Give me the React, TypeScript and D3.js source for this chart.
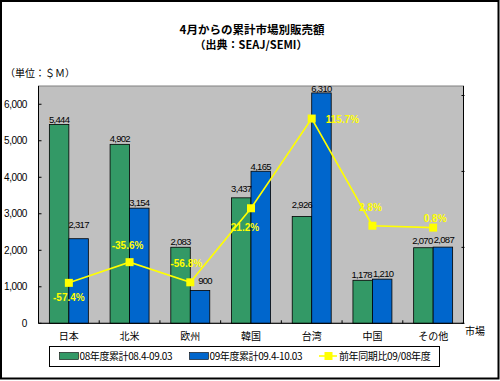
import React from "react";
import * as d3 from "d3";

const categories = ["日本", "北米", "欧州", "韓国", "台湾", "中国", "その他"];
const fy08 = [5444, 4902, 2083, 3437, 2926, 1178, 2070];
const fy09 = [2317, 3154, 900, 4165, 6310, 1210, 2087];
const yoy = [-57.4, -35.6, -56.8, 21.2, 115.7, 2.8, 0.8];
const leftTicks = [0, 1000, 2000, 3000, 4000, 5000, 6000];
const rightTicks = [-100, -20, 60, 140];
const seriesNames = ["08年度累計08.4-09.03", "09年度累計09.4-10.03", "前年同期比09/08年度"];

const W = 500;
const H = 381;
const L = 38.5, R = 463.5, T = 86, B = 323.3;
const GREEN = "#339966";
const BLUE = "#0066CC";
const YELLOW = "#FFFF00";
const JP = "'Noto Sans CJK JP', 'Liberation Sans', sans-serif";
const NUM = "'Liberation Sans', Arial, sans-serif";

// label gaps (style)
const gapG = [1, 1, 1, 5, 7, 1, 3];
const gapB = [10, 1, 5, 0, 0, 1, 3];
const dxG = [0, 0, 0, 0, 0, -1, -1];
const dxB = [0, 0, 5, 0, 0, 1, 1];
const pctDx = [0, -2, -4, -6, 14, -2, 2];
const pctDy = [18, -13, -15, 22.5, 4, -15, -6];
const pctAnchor = ["middle", "middle", "middle", "middle", "start", "middle", "middle"];

export default function App() {
  const x = d3.scaleBand<string>().domain(categories).range([L, R]).padding(0);
  const yL = d3.scaleLinear().domain([0, 6500]).range([B, T]);
  const yR = d3.scaleLinear().domain([-100, 150]).range([B, T]);
  const bw = x.bandwidth() * 0.321;
  const cx = (c: string) => (x(c) as number) + x.bandwidth() / 2;
  const fmt = d3.format(",");
  const line = d3
    .line<number>()
    .x((_, i) => cx(categories[i]))
    .y((d) => yR(d));

  return (
    <svg width={W} height={H} style={{ position: "absolute", left: 0, top: 0, background: "#fff" }}>
      <rect x={1} y={1} width={497.5} height={377.5} fill="#fff" stroke="#000" strokeWidth={2} />
      {/* titles */}
      <text x={252} y={34} textAnchor="middle" fontFamily={JP} fontSize={11.5} fontWeight="bold">
        4月からの累計市場別販売額
      </text>
      <text x={251} y={49} textAnchor="middle" fontFamily={JP} fontSize={11} fontWeight="bold">
        （出典：SEAJ/SEMI）
      </text>
      <text x={5} y={77} fontFamily={JP} fontSize={10}>
        （単位：＄Ｍ）
      </text>

      {/* plot area */}
      <rect x={L} y={T} width={R - L} height={B - T} fill="#C0C0C0" stroke="#808080" strokeWidth={1} />

      {/* left axis */}
      <line x1={L} x2={L} y1={T} y2={B} stroke="#000" />
      {leftTicks.map((t) => (
        <g key={t}>
          <line x1={L} x2={L + 3} y1={yL(t)} y2={yL(t)} stroke="#000" />
          <text x={27} y={yL(t) + 3.5} textAnchor="end" fontFamily={NUM} fontSize={10} letterSpacing={-0.4}>
            {fmt(t)}
          </text>
        </g>
      ))}
      {/* right axis */}
      <line x1={R} x2={R} y1={T} y2={B} stroke="#000" />
      {rightTicks.map((t) => (
        <line key={t} x1={R - 2} x2={R + 1} y1={yR(t)} y2={yR(t)} stroke="#000" />
      ))}

      {/* bars */}
      {categories.map((c, i) => (
        <g key={c}>
          <rect x={cx(c) - bw} y={yL(fy08[i])} width={bw} height={B - yL(fy08[i])} fill={GREEN} stroke="#000" strokeWidth={0.8} />
          <rect x={cx(c)} y={yL(fy09[i])} width={bw} height={B - yL(fy09[i])} fill={BLUE} stroke="#000" strokeWidth={0.8} />
        </g>
      ))}

      {/* bottom axis */}
      <line x1={L} x2={R} y1={B} y2={B} stroke="#000" />
      {categories.slice(1).map((c) => (
        <line key={c} x1={x(c) as number} x2={x(c) as number} y1={B - 3} y2={B} stroke="#000" />
      ))}
      {categories.map((c) => (
        <text key={c} x={cx(c)} y={340} textAnchor="middle" fontFamily={JP} fontSize={10}>
          {c}
        </text>
      ))}
      <text x={465} y={335} fontFamily={JP} fontSize={10}>
        市場
      </text>

      {/* bar value labels */}
      {categories.map((c, i) => (
        <g key={c} fontFamily={NUM} fontSize={9.5} letterSpacing={-0.7} textAnchor="middle">
          <text x={cx(c) - bw / 2 + dxG[i]} y={yL(fy08[i]) - 1 - gapG[i]}>{fmt(fy08[i])}</text>
          <text x={cx(c) + bw / 2 + dxB[i]} y={yL(fy09[i]) - 1 - gapB[i]}>{fmt(fy09[i])}</text>
        </g>
      ))}

      {/* line */}
      <path d={line(yoy) || ""} fill="none" stroke={YELLOW} strokeWidth={1.6} />
      {yoy.map((v, i) => (
        <rect key={i} x={cx(categories[i]) - 4} y={yR(v) - 4} width={8} height={8} fill={YELLOW} />
      ))}
      {yoy.map((v, i) => (
        <text
          key={i}
          x={cx(categories[i]) + pctDx[i]}
          y={yR(v) + pctDy[i]}
          textAnchor={pctAnchor[i] as any}
          fontFamily={NUM}
          fontSize={10}
          fontWeight="bold"
          fill={YELLOW}
        >
          {v.toFixed(1) + "%"}
        </text>
      ))}

      {/* legend */}
      <rect x={49.5} y={346.5} width={390} height={20} fill="#fff" stroke="#000" strokeWidth={1} />
      <rect x={59.5} y={352.5} width={19} height={7} fill={GREEN} stroke="#000" strokeWidth={0.6} />
      <text x={79.5} y={360} fontFamily={JP} fontSize={10} letterSpacing={-0.4}>{seriesNames[0]}</text>
      <rect x={189.5} y={352.5} width={19} height={7} fill={BLUE} stroke="#000" strokeWidth={0.6} />
      <text x={209.5} y={360} fontFamily={JP} fontSize={10} letterSpacing={-0.4}>{seriesNames[1]}</text>
      <line x1={319} x2={337} y1={356} y2={356} stroke={YELLOW} strokeWidth={1.6} />
      <rect x={324.5} y={352} width={8} height={8} fill={YELLOW} />
      <text x={339} y={360} fontFamily={JP} fontSize={10} letterSpacing={-0.4}>{seriesNames[2]}</text>
    </svg>
  );
}
